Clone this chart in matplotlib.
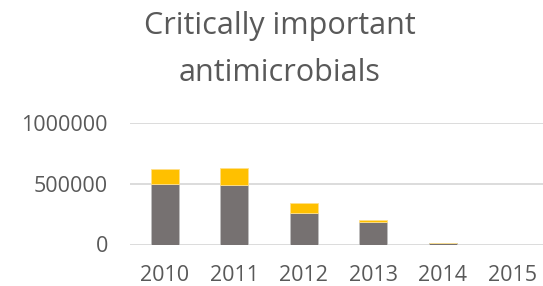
import matplotlib
matplotlib.use("Agg")
import matplotlib.pyplot as plt

years = ["2010", "2011", "2012", "2013", "2014", "2015"]
gray_vals = [500000, 493000, 261000, 184000, 12000, 0]
yellow_vals = [125000, 134000, 77000, 17000, 0, 0]
yticks = [0, 500000, 1000000]

W, H = 543, 286
fig = plt.figure(figsize=(W / 100, H / 100), dpi=100)
plt.rcParams['font.family'] = ['Open Sans', 'DejaVu Sans']
ax = fig.add_axes([130 / W, (H - 244.5) / H, (547 - 130) / W, (244.5 - 123) / H])

x = list(range(len(years)))
ax.bar(x, gray_vals, width=0.4, color="#767171", edgecolor="#bfbfbf", linewidth=0.6, zorder=3)
ax.bar(x, yellow_vals, bottom=gray_vals, width=0.4, color="#FFC000", edgecolor="#ffe08a", linewidth=0.6, zorder=3)

ax.set_xlim(-0.5, len(years) - 0.5)
ax.set_ylim(0, 1000000)
ax.set_yticks(yticks)
ax.set_yticklabels([str(v) for v in yticks])
ax.set_xticks(x)
ax.set_xticklabels(years)
ax.grid(axis="y", color="#d9d9d9", linewidth=1.3, zorder=0)
for s in ax.spines.values():
    s.set_visible(False)
ax.tick_params(axis="both", length=0, labelsize=15.5, colors="#595959")
ax.tick_params(axis="y", pad=16)
ax.tick_params(axis="x", pad=15)

fig.text(280 / W, 1 - 34 / H, "Critically important", ha="center", va="baseline",
         fontsize=22, color="#595959")
fig.text(280 / W, 1 - 81 / H, "antimicrobials", ha="center", va="baseline",
         fontsize=22, color="#595959")

fig.savefig("out.png", dpi=100)
